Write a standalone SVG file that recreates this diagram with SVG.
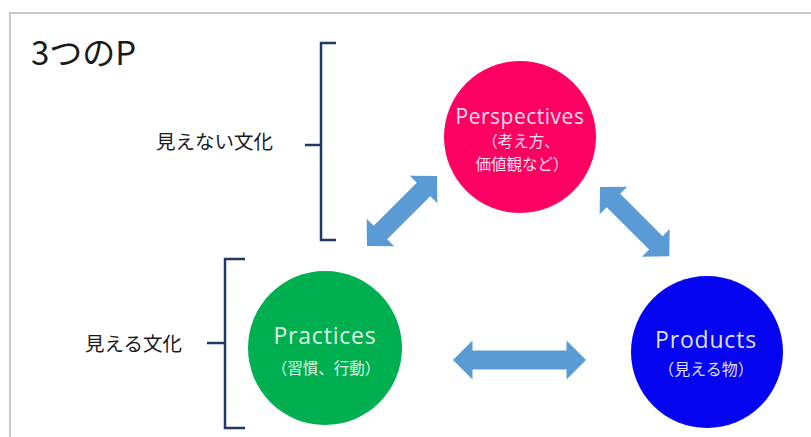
<svg xmlns="http://www.w3.org/2000/svg" width="811" height="437" viewBox="0 0 811 437">
  <style>
    .frame { fill: none; stroke: #c9c9c9; stroke-width: 2; }
    .bracket { fill: none; stroke: #1f3864; stroke-width: 2.5; }
    .label { font-family: "Noto Sans CJK JP", "Noto Sans", sans-serif; fill: #1a1a1a; }
    .title { font-size: 33px; }
    .side { font-size: 19.5px; }
    .en { font-family: "Open Sans", "Noto Sans", sans-serif; font-weight: 400; fill: #ffffff; fill-opacity: 0.88; text-anchor: middle; }
    .jp { font-family: "Noto Sans CJK JP", sans-serif; fill: #ffffff; fill-opacity: 0.88; text-anchor: middle; }
    .arrow { fill: #5b9bd5; }
  </style>

  <path class="frame" d="M10,437 V13 H811"/>

  <text id="title" class="label title" x="31" y="65">3つのP</text>

  <g id="invisible-culture">
    <path class="bracket" d="M336,43 H321 V240 H336 M305,145 H321"/>
    <text class="label side" x="156" y="149">見えない文化</text>
  </g>

  <g id="visible-culture">
    <path class="bracket" d="M245,259 H225 V428 H245 M207,343 H225"/>
    <text class="label side" x="85" y="351">見える文化</text>
  </g>

  <g id="connectors">
    <polygon class="arrow" transform="translate(367,246) rotate(-45)" points="0,0 19,-19.5 19,-9.5 80,-9.5 80,-19.5 99,0 80,19.5 80,9.5 19,9.5 19,19.5"/>
    <polygon class="arrow" transform="translate(600,187) rotate(45)" points="0,0 19,-19.5 19,-9.5 79,-9.5 79,-19.5 98,0 79,19.5 79,9.5 19,9.5 19,19.5"/>
    <polygon class="arrow" transform="translate(453,360)" points="0,0 19.5,-19.5 19.5,-9.5 113.5,-9.5 113.5,-19.5 133,0 113.5,19.5 113.5,9.5 19.5,9.5 19.5,19.5"/>
  </g>

  <g id="perspectives">
    <circle cx="520" cy="137" r="76" fill="#fe0062"/>
    <text class="en" x="520" y="124" font-size="21" letter-spacing="0.5">Perspectives</text>
    <text class="jp" font-size="15.5"><tspan x="521" y="146.5">（考え方、</tspan><tspan x="522" y="169.5">価値観など）</tspan></text>
  </g>

  <g id="practices">
    <circle cx="325" cy="348" r="77" fill="#00b050"/>
    <text class="en" x="325" y="344" font-size="23" letter-spacing="0.8">Practices</text>
    <text class="jp" x="326" y="374" font-size="15.5">（習慣、行動）</text>
  </g>

  <g id="products">
    <circle cx="707" cy="352" r="76" fill="#0404f0"/>
    <text class="en" x="706" y="348" font-size="23" letter-spacing="0.8">Products</text>
    <text class="jp" x="706" y="375" font-size="16">（見える物）</text>
  </g>
</svg>
